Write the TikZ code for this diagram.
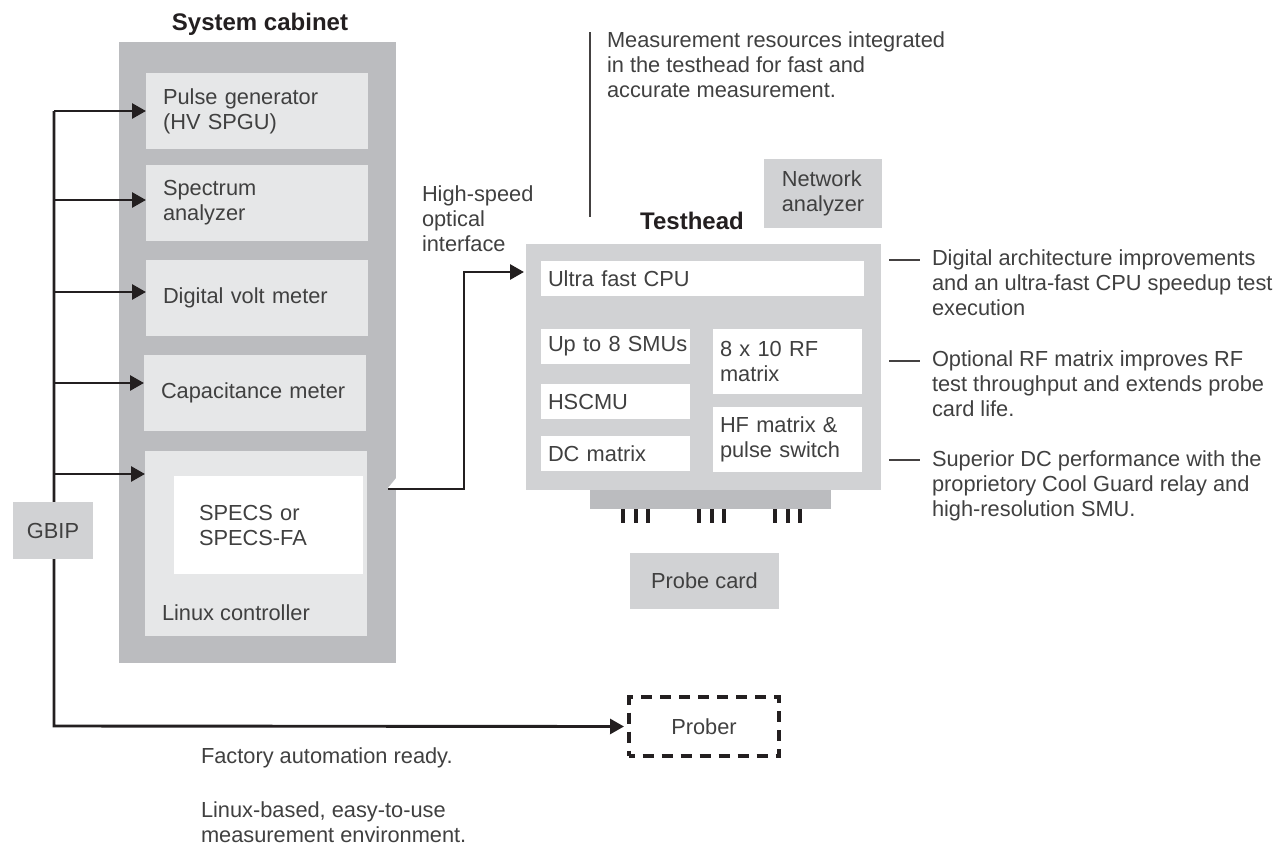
\documentclass[tikz,border=0pt]{standalone}
\usepackage{fontspec}
\setmainfont{Liberation Sans}
\usetikzlibrary{arrows.meta,calc}
\definecolor{cab}{HTML}{BBBCBF}
\definecolor{inbox}{HTML}{E6E7E8}
\definecolor{thead}{HTML}{D1D2D4}
\definecolor{txt}{HTML}{404040}
\definecolor{ln}{HTML}{231F20}
\begin{document}
\begin{tikzpicture}[x=1pt,y=-1pt,
  every node/.style={font=\fontsize{21.8}{25}\selectfont, text=txt, inner sep=0pt, outer sep=0pt},
  title/.style={font=\fontsize{24}{28}\selectfont\bfseries, text=ln},
  cabbox/.style={fill=cab, anchor=north west},
  ibox/.style={fill=inbox, anchor=north west, align=left},
  gbox/.style={fill=thead, anchor=north west},
  wbox/.style={fill=white, anchor=north west, align=left},
  note/.style={anchor=north west, align=left},
  pin/.style={fill=ln},
  arr/.style={draw=ln, line width=2.9pt, -{Triangle[length=14pt,width=15pt]}},
  thin/.style={draw=ln!85, line width=1.4pt}]
\useasboundingbox (0,0) rectangle (1283,846);

% ---------- System cabinet ----------
\node[title] (cabtitle) at (260,24) {System cabinet};
\node[cabbox, minimum width=277pt, minimum height=621pt] (cab) at (119,42) {};
\fill[white] (388,488) -- (397,477) -- (397,488) -- cycle;

\node[ibox, minimum width=222pt, minimum height=76pt, text width=188pt, inner xsep=17pt] (pulse) at (146,73) {Pulse generator\\(HV SPGU)};
\node[ibox, minimum width=222pt, minimum height=76pt, text width=188pt, inner xsep=17pt] (spec) at (146,165) {Spectrum\\analyzer};
\node[ibox, minimum width=222pt, minimum height=76pt, text width=188pt, inner xsep=17pt] (dvm) at (146,260) {Digital volt meter};
\node[ibox, minimum width=222pt, minimum height=76pt, text width=188pt, inner xsep=17pt] (capm) at (144,355) {Capacitance meter};
\node[ibox, minimum width=222pt, minimum height=185pt] (linux) at (145,451) {};
\node[wbox, minimum width=164pt, minimum height=98pt, text width=139pt, inner xsep=25pt] (specs) at (174,476) {SPECS or\\SPECS-FA};
\node[anchor=west] (linuxlbl) at (162,613) {Linux controller};

% ---------- GBIP bus ----------
\coordinate (b1) at (54,111);
\coordinate (b2) at (54,200);
\coordinate (b3) at (54,292);
\coordinate (b4) at (54,383);
\coordinate (b5) at (54,474);
\coordinate (busbot) at (54,726);
\node[draw=ln, line width=3.5pt, dash pattern=on 11pt off 8pt, dash phase=5.5pt,
      anchor=north west, minimum width=150pt, minimum height=59pt] (prober) at (629,697) {Prober};
\draw[arr] (b1) -- (busbot) -- ([xshift=-5pt]prober.west);
\draw[arr] (b1) -- (b1 -| pulse.west);
\draw[arr] (b2) -- (b2 -| spec.west);
\draw[arr] (b3) -- (b3 -| dvm.west);
\draw[arr] (b4) -- (b4 -| capm.west);
\draw[arr] (b5) -- (b5 -| linux.west);
\node[gbox, minimum width=80pt, minimum height=57pt] (gbip) at (13,502) {GBIP};

% ---------- Testhead ----------
\node[title] (thtitle) at (692,221) {Testhead};
\node[gbox, minimum width=355pt, minimum height=246pt] (th) at (526,244) {};
\node[wbox, minimum width=323pt, minimum height=35pt, text width=309pt, inner xsep=7pt] (cpu) at (541,261) {Ultra fast CPU};
\node[wbox, minimum width=149pt, minimum height=35pt, text width=135pt, inner xsep=7pt] (smu) at (541,329) {\mbox{Up to 8 SMUs}};
\node[wbox, minimum width=149pt, minimum height=35pt, text width=135pt, inner xsep=7pt] (hscmu) at (541,384) {HSCMU};
\node[wbox, minimum width=149pt, minimum height=35pt, text width=135pt, inner xsep=7pt] (dcm) at (541,436) {DC matrix};
\node[wbox, minimum width=149pt, minimum height=65pt, text width=135pt, inner xsep=7pt] (rfm) at (713,329) {8 x 10 RF\\matrix};
\node[wbox, minimum width=149pt, minimum height=65pt, text width=135pt, inner xsep=7pt] (hfm) at (713,407) {HF matrix \&\\\mbox{pulse switch}};
\node[cabbox, minimum width=241pt, minimum height=19pt] (bar) at (590,490) {};
\foreach \px in {623,636,648,699,712,724,775,788,800}
  \fill[pin] (\px-2.4,509) rectangle (\px+2.4,523);
\node[gbox, minimum width=149pt, minimum height=56pt] (probe) at (630,553) {Probe card};
\node[gbox, minimum width=118pt, minimum height=69pt, align=left] (netan) at (764,159) {Network\\analyzer};

% ---------- optical link ----------
\coordinate (o1) at (388,489);
\coordinate (o2) at (464,272);
\node[note] (optlbl) at (422,186) {High-speed\\optical\\interface};
\draw[arr, line join=miter] (o1) -| (o2) -- ([xshift=-2pt]o2 -| th.west);

% ---------- annotations ----------
\node[note] (topnote) at (607,32) {Measurement resources integrated\\in the testhead for fast and\\accurate measurement.};
\coordinate (v1) at (590,32);
\coordinate (v2) at (590,217);
\draw[thin] (v1) -- (v2);

\node[note] (n1) at (932,250) {Digital architecture improvements\\and an ultra-fast CPU speedup test\\execution};
\node[note] (n2) at (932,351) {Optional RF matrix improves RF\\test throughput and extends probe\\card life.};
\node[note] (n3) at (932,451) {Superior DC performance with the\\proprietory Cool Guard relay and\\high-resolution SMU.};
\draw[thin] ([xshift=-43pt,yshift=-10pt]n1.north west) -- ([xshift=-12pt,yshift=-10pt]n1.north west);
\draw[thin] ([xshift=-43pt,yshift=-10pt]n2.north west) -- ([xshift=-12pt,yshift=-10pt]n2.north west);
\draw[thin] ([xshift=-43pt,yshift=-9pt]n3.north west) -- ([xshift=-12pt,yshift=-9pt]n3.north west);

\node[note] (fa) at (201,748) {Factory automation ready.};
\node[note] (lx) at (201,802) {Linux-based, easy-to-use\\measurement environment.};
\end{tikzpicture}
\end{document}
